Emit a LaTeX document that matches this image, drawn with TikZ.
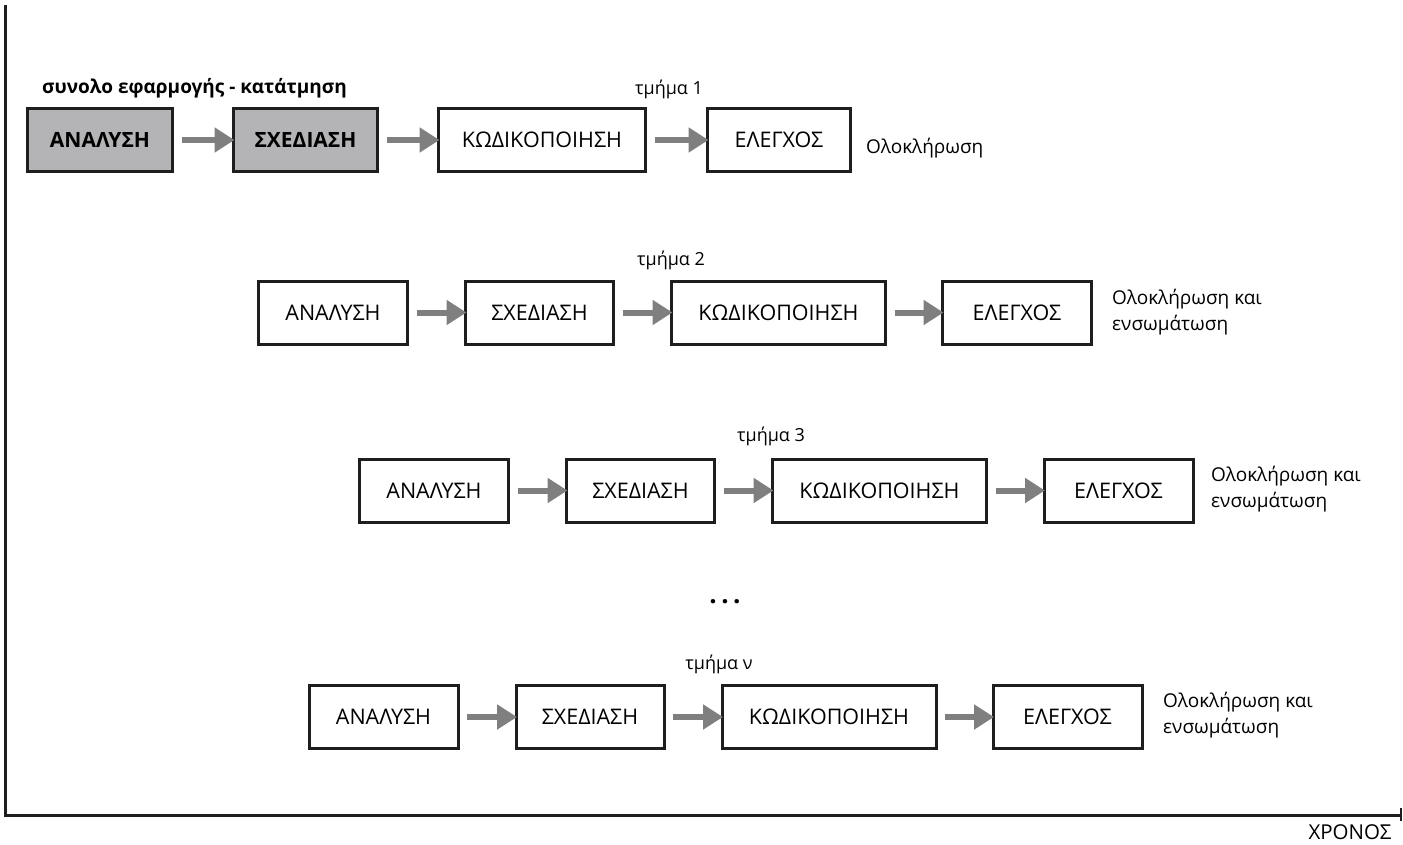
\documentclass[tikz,border=0pt]{standalone}
\usepackage{fontspec}
\setmainfont{Open Sans}
\usetikzlibrary{arrows.meta}
\definecolor{boxline}{HTML}{1E1E1E}
\definecolor{boxgray}{HTML}{B4B4B6}
\definecolor{arrgray}{HTML}{7F7F7F}
\tikzset{
  stage/.style={draw=boxline, line width=3pt, fill=white, minimum height=63pt, inner sep=0pt, outer sep=0pt,
    font=\fontsize{21.5}{24}\selectfont},
  hot/.style={stage, fill=boxgray, font=\fontsize{21}{24}\selectfont\bfseries},
  flow/.style={draw=arrgray, line width=6pt, -{Triangle[length=20pt,width=24pt]}, shorten <=9pt, shorten >=-1pt},
  part/.style={font=\fontsize{18}{22}\selectfont, inner sep=0pt},
  done/.style={font=\fontsize{19}{26}\selectfont, align=left, inner sep=0pt, anchor=west},
}
\begin{document}
\begin{tikzpicture}[x=1pt,y=-1pt]
\useasboundingbox (0,0) rectangle (1403,845);
% axes
\coordinate (top) at (5.5,5);
\coordinate (origin) at (5.5,815);
\coordinate (tend) at (1401,815);
\draw[boxline, line width=3pt] (top) -- (origin) -- (tend);
\draw[boxline, line width=2pt] (1401,808) -- (1401,821);
\node[font=\fontsize{20.5}{22}\selectfont, inner sep=0pt] (xronos) at (1350,832) {ΧΡΟΝΟΣ};

% row 1
\node[font=\fontsize{19}{22}\selectfont\bfseries, inner sep=0pt, anchor=west] (title) at (42,88) {συνολο εφαρμογής - κατάτμηση};
\node[hot, minimum width=145pt] (a1) at (100,140) {ΑΝΑΛΥΣΗ};
\node[hot, minimum width=144pt] (s1) at (305.5,140) {ΣΧΕΔΙΑΣΗ};
\node[stage, minimum width=207pt] (k1) at (542,140) {ΚΩΔΙΚΟΠΟΙΗΣΗ};
\node[stage, minimum width=143pt] (e1) at (779,140) {ΕΛΕΓΧΟΣ};
\node[part] (t1) at (669,89) {τμήμα 1};
\node[done] (o1) at (866,148) {Ολοκλήρωση};
\draw[flow] (a1) -- (s1);
\draw[flow] (s1) -- (k1);
\draw[flow] (k1) -- (e1);

% row 2
\node[stage, minimum width=149pt] (a2) at (333,312.5) {ΑΝΑΛΥΣΗ};
\node[stage, minimum width=148pt] (s2) at (539.5,312.5) {ΣΧΕΔΙΑΣΗ};
\node[stage, minimum width=214pt] (k2) at (778.5,312.5) {ΚΩΔΙΚΟΠΟΙΗΣΗ};
\node[stage, minimum width=149pt] (e2) at (1017,312.5) {ΕΛΕΓΧΟΣ};
\node[part] (t2) at (671,260) {τμήμα 2};
\node[done] (o2) at (1112,312) {Ολοκλήρωση και\\ενσωμάτωση};
\draw[flow] (a2) -- (s2);
\draw[flow] (s2) -- (k2);
\draw[flow] (k2) -- (e2);

% row 3
\node[stage, minimum width=149pt] (a3) at (434,490.5) {ΑΝΑΛΥΣΗ};
\node[stage, minimum width=148pt] (s3) at (640.5,490.5) {ΣΧΕΔΙΑΣΗ};
\node[stage, minimum width=214pt] (k3) at (879.5,490.5) {ΚΩΔΙΚΟΠΟΙΗΣΗ};
\node[stage, minimum width=149pt] (e3) at (1118.5,490.5) {ΕΛΕΓΧΟΣ};
\node[part] (t3) at (771,436) {τμήμα 3};
\node[done] (o3) at (1211,489.5) {Ολοκλήρωση και\\ενσωμάτωση};
\draw[flow] (a3) -- (s3);
\draw[flow] (s3) -- (k3);
\draw[flow] (k3) -- (e3);

% dots
\node[font=\fontsize{26}{26}\selectfont\bfseries, inner sep=0pt] (dots) at (725,602) {.\hspace{4.5pt}.\hspace{4.5pt}.};

% row n
\node[stage, minimum width=149pt] (a4) at (383.5,717) {ΑΝΑΛΥΣΗ};
\node[stage, minimum width=148pt] (s4) at (590,717) {ΣΧΕΔΙΑΣΗ};
\node[stage, minimum width=214pt] (k4) at (829,717) {ΚΩΔΙΚΟΠΟΙΗΣΗ};
\node[stage, minimum width=149pt] (e4) at (1067.5,717) {ΕΛΕΓΧΟΣ};
\node[part] (t4) at (719,664) {τμήμα ν};
\node[done] (o4) at (1163,715.5) {Ολοκλήρωση και\\ενσωμάτωση};
\draw[flow] (a4) -- (s4);
\draw[flow] (s4) -- (k4);
\draw[flow] (k4) -- (e4);
\end{tikzpicture}
\end{document}
